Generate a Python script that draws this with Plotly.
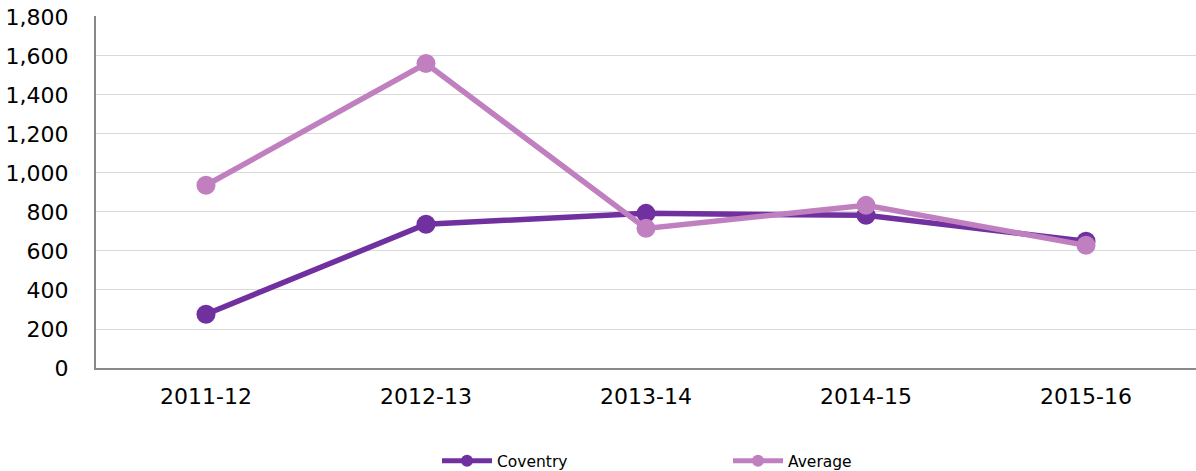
import plotly.graph_objects as go

categories = ["2011-12", "2012-13", "2013-14", "2014-15", "2015-16"]
coventry = [276, 737, 793, 783, 650]
average = [937, 1561, 716, 834, 629]

fig = go.Figure()
fig.add_trace(go.Scatter(x=categories, y=coventry, name="Coventry", mode="lines+markers",
                         line=dict(color="#7030A0", width=5.5), marker=dict(size=19, color="#7030A0")))
fig.add_trace(go.Scatter(x=categories, y=average, name="Average", mode="lines+markers",
                         line=dict(color="#C080C0", width=5.5), marker=dict(size=19, color="#C080C0")))

fig.update_layout(
    width=1196, height=471,
    margin=dict(l=96, r=0, t=16, b=103, autoexpand=False),
    paper_bgcolor="white", plot_bgcolor="white",
    font=dict(family="DejaVu Sans, Verdana, sans-serif", color="#000000"),
    showlegend=True,
    legend=dict(orientation="h", x=0.31, xanchor="left", y=-0.265, yanchor="middle",
                font=dict(size=15.5), entrywidth=226, entrywidthmode="pixels", itemwidth=50,
                itemsizing="constant"),
)
fig.update_xaxes(type="category", range=[-0.5, 4.5], showline=True, linecolor="#898989", linewidth=2,
                 showgrid=False, tickfont=dict(size=22), ticks="", ticklabelstandoff=8, automargin=False)
fig.update_yaxes(range=[0, 1805], dtick=200, tickformat=",", showline=True, linecolor="#898989", linewidth=2,
                 gridcolor="#D9D9D9", gridwidth=1, tickfont=dict(size=22), ticks="",
                 ticklabelstandoff=21, zeroline=False, automargin=False)

fig.write_html("out.html", config={"displayModeBar": False},
               post_script="document.body.style.margin='0';")
